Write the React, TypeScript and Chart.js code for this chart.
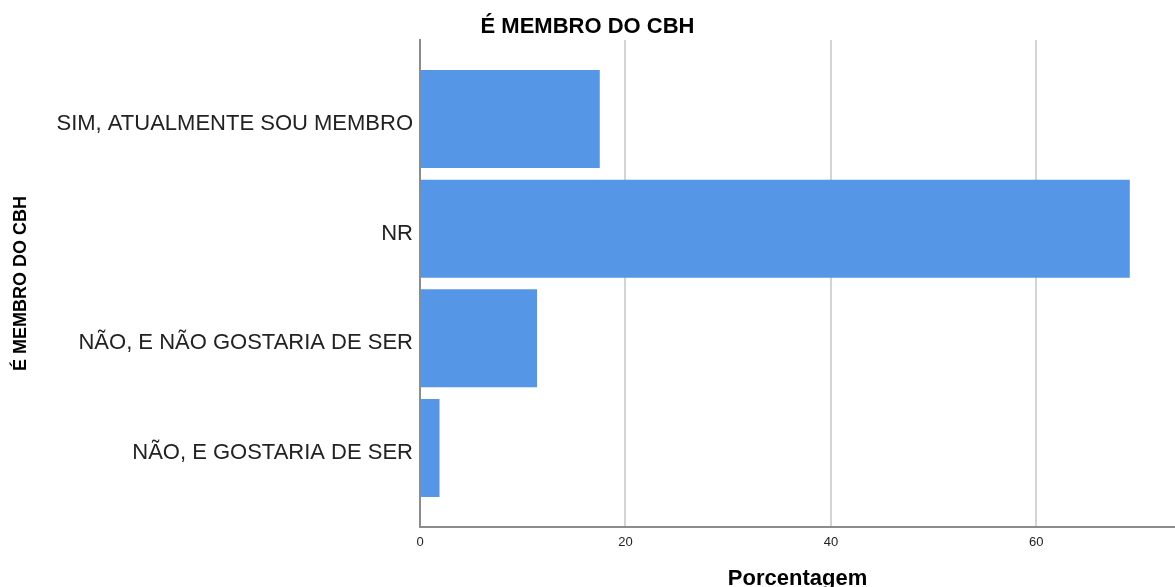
import React, { useEffect, useRef } from "react";
import { Chart, registerables } from "chart.js";

Chart.register(...registerables);

const categories: string[] = [
  "SIM, ATUALMENTE SOU MEMBRO",
  "NR",
  "NÃO, E NÃO GOSTARIA DE SER",
  "NÃO, E GOSTARIA DE SER",
];
const percentages: number[] = [17.5, 69.1, 11.4, 1.9];
const xTicks: number[] = [0, 20, 40, 60];
const chartTitle = "É MEMBRO DO CBH";
const xTitle = "Porcentagem";
const yTitle = "É MEMBRO DO CBH";

export default function App() {
  const canvasRef = useRef<HTMLCanvasElement | null>(null);

  useEffect(() => {
    if (!canvasRef.current) return;
    const font = "'Liberation Sans', Arial, Helvetica, sans-serif";
    const chart = new Chart(canvasRef.current, {
      type: "bar",
      data: {
        datasets: [
          {
            data: percentages.map((v, i) => ({ x: v, y: i })),
            backgroundColor: "#5596e6",
            borderWidth: 0,
            barPercentage: 0.893,
            categoryPercentage: 1,
          },
        ],
      },
      options: {
        indexAxis: "y",
        animation: false,
        responsive: false,
        maintainAspectRatio: false,
        layout: { padding: 0 },
        plugins: {
          legend: { display: false },
          tooltip: { enabled: false },
          title: {
            display: true,
            text: chartTitle,
            color: "#000",
            font: { family: font, size: 22, weight: "bold", lineHeight: 1.2 },
            padding: { top: 14, bottom: -0.4 },
          },
        },
        scales: {
          x: {
            type: "linear",
            min: 0,
            max: 73.5,
            offset: false,
            afterBuildTicks: (scale: any) => {
              scale.ticks = xTicks.map((v) => ({ value: v }));
            },
            afterFit: (scale: any) => {
              scale.height = 60;
            },
            grid: {
              display: true,
              drawTicks: false,
              lineWidth: 2,
              color: (ctx: any) => (ctx.tick && ctx.tick.value === 0 ? "rgba(0,0,0,0)" : "#d4d4d4"),
            },
            border: { display: true, color: "#8c8c8c", width: 2 },
            ticks: {
              color: "#222",
              padding: 8,
              font: { family: font, size: 13 },
              maxRotation: 0,
            },
            title: {
              display: true,
              text: xTitle,
              color: "#000",
              font: { family: font, size: 22, weight: "bold", lineHeight: 1 },
              padding: { top: 0, bottom: -3 },
            },
          },
          y: {
            type: "linear",
            reverse: true,
            offset: false,
            min: -0.72,
            max: 3.72,
            afterBuildTicks: (scale: any) => {
              scale.ticks = categories.map((_, i) => ({ value: i }));
            },
            afterFit: (scale: any) => {
              scale.width = 420;
            },
            grid: { display: false, drawTicks: false },
            border: { display: true, color: "#8c8c8c", width: 2 },
            ticks: {
              autoSkip: false,
              color: "#222",
              padding: 7,
              labelOffset: 5,
              font: { family: font, size: 22 },
              callback: (value: any) => categories[Number(value)] ?? "",
            },
            title: {
              display: true,
              text: yTitle,
              color: "#000",
              font: { family: font, size: 18, weight: "bold", lineHeight: 1.2 },
              padding: { top: 10, bottom: 0 },
            },
          },
        },
      },
    } as any);
    return () => chart.destroy();
  }, []);

  return (
    <div
      style={{
        position: "fixed",
        left: 0,
        top: 0,
        width: 1175,
        height: 587,
        background: "#fff",
      }}
    >
      <canvas ref={canvasRef} width={1175} height={587} style={{ display: "block" }} />
    </div>
  );
}
